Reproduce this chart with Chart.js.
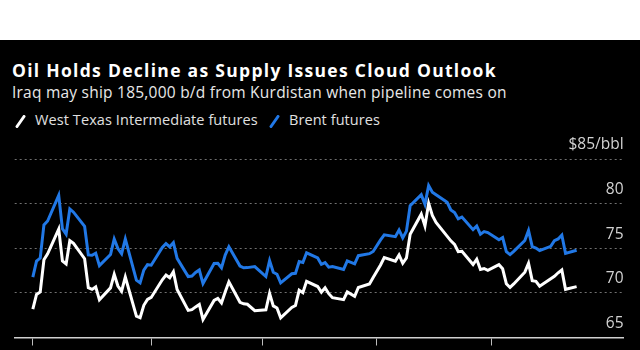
<!DOCTYPE html>
<html>
<head>
<meta charset="utf-8">
<script src="https://cdn.jsdelivr.net/npm/chart.js@4.4.1/dist/chart.umd.min.js"></script>
<style>
  html, body { margin: 0; padding: 0; background: #fff; }
  body { width: 640px; height: 350px; position: relative; overflow: hidden; font-family: "Open Sans", sans-serif; }
  #panel { position: absolute; left: 0; top: 40px; width: 640px; height: 310px; background: #000; }
  .txt { position: absolute; white-space: nowrap; line-height: normal; }
  #title { left: 12px; top: 18px; font-size: 17.5px; font-weight: 700; color: #fff; }
  #subtitle { left: 12px; top: 41px; font-size: 15.5px; color: #e8e8e8; }
  .leg { top: 70px; font-size: 14.5px; color: #e0e0e0; }
  .key { position: absolute; top: 75px; }
  #chartBox { position: absolute; left: 0; top: 130px; width: 640px; height: 220px; }
</style>
</head>
<body>
<div id="panel">
  <div id="title" class="txt" data-w="485">Oil Holds Decline as Supply Issues Cloud Outlook</div>
  <div id="subtitle" class="txt" data-w="495">Iraq may ship 185,000 b/d from Kurdistan when pipeline comes on</div>
  <svg class="key" style="left:14px" width="13" height="13"><line x1="3" y1="11.5" x2="10" y2="1.5" stroke="#fff" stroke-width="3" stroke-linecap="round"/></svg>
  <div class="txt leg" style="left:35px" data-w="223">West Texas Intermediate futures</div>
  <svg class="key" style="left:268px" width="13" height="13"><line x1="3" y1="11.5" x2="10" y2="1.5" stroke="#2178e6" stroke-width="3" stroke-linecap="round"/></svg>
  <div class="txt leg" style="left:289px" data-w="91">Brent futures</div>
</div>
<div id="chartBox"><canvas id="oilChart" width="640" height="220"></canvas></div>

<script>
// daily settlements, Sep 30 2024 - Feb 24 2025
const dates = [
  '2024-09-30','2024-10-01','2024-10-02','2024-10-03','2024-10-04','2024-10-07','2024-10-08','2024-10-09','2024-10-10','2024-10-11',
  '2024-10-14','2024-10-15','2024-10-16','2024-10-17','2024-10-18','2024-10-21','2024-10-22','2024-10-23','2024-10-24','2024-10-25',
  '2024-10-28','2024-10-29','2024-10-30','2024-10-31','2024-11-01','2024-11-04','2024-11-05','2024-11-06','2024-11-07','2024-11-08',
  '2024-11-11','2024-11-12','2024-11-13','2024-11-14','2024-11-15','2024-11-18','2024-11-19','2024-11-20','2024-11-21','2024-11-22',
  '2024-11-25','2024-11-26','2024-11-27','2024-11-29','2024-12-02','2024-12-03','2024-12-04','2024-12-05','2024-12-06','2024-12-09',
  '2024-12-10','2024-12-11','2024-12-12','2024-12-13','2024-12-16','2024-12-17','2024-12-18','2024-12-19','2024-12-20','2024-12-23',
  '2024-12-24','2024-12-26','2024-12-27','2024-12-30','2024-12-31','2025-01-02','2025-01-03','2025-01-06','2025-01-07','2025-01-08',
  '2025-01-09','2025-01-10','2025-01-13','2025-01-14','2025-01-15','2025-01-16','2025-01-17','2025-01-20','2025-01-21','2025-01-22',
  '2025-01-23','2025-01-24','2025-01-27','2025-01-28','2025-01-29','2025-01-30','2025-01-31','2025-02-03','2025-02-04','2025-02-05',
  '2025-02-06','2025-02-07','2025-02-10','2025-02-11','2025-02-12','2025-02-13','2025-02-14','2025-02-17','2025-02-18','2025-02-19',
  '2025-02-20','2025-02-21','2025-02-24'
];

const wti = [
  68.17, 69.83, 70.10, 73.71, 74.38, 77.14, 73.57, 73.24, 75.85, 75.56,
  73.83, 70.58, 70.39, 70.67, 69.22, 70.56, 72.09, 70.77, 70.19, 71.78,
  67.38, 67.21, 68.61, 69.26, 69.49, 71.47, 71.99, 71.69, 72.36, 70.38,
  68.04, 68.12, 68.43, 68.70, 67.02, 69.16, 69.39, 68.87, 70.10, 71.24,
  68.94, 68.77, 68.72, 68.00, 68.10, 69.94, 68.54, 68.30, 67.20, 68.37,
  68.59, 70.29, 70.02, 71.29, 70.71, 70.08, 70.58, 69.91, 69.46, 69.24,
  70.10, 69.62, 70.60, 70.99, 71.72, 73.13, 73.96, 73.56, 74.25, 73.32,
  73.92, 76.57, 78.82, 77.50, 80.04, 78.68, 77.88, null, 75.83, 75.44,
  74.62, 74.66, 73.17, 73.77, 72.62, 72.73, 72.53, 73.16, 72.70, 71.03,
  70.61, 71.00, 72.32, 73.32, 71.37, 71.29, 70.74, null, 71.85, 72.25,
  72.57, 70.40, 70.70
];

const brent = [
  71.77, 73.56, 73.90, 77.62, 78.05, 80.93, 77.18, 76.58, 79.40, 79.04,
  77.46, 74.25, 74.22, 74.45, 73.06, 74.29, 76.04, 74.96, 74.38, 76.05,
  71.42, 71.12, 72.55, 73.16, 73.10, 75.08, 75.53, 75.16, 75.63, 73.87,
  71.83, 71.89, 72.28, 72.56, 71.04, 73.30, 73.31, 72.81, 74.23, 75.17,
  73.01, 72.81, 72.83, 72.94, 71.83, 73.62, 72.31, 72.09, 71.12, 72.14,
  72.19, 73.52, 73.41, 74.49, 73.91, 73.19, 73.39, 72.88, 72.94, 72.63,
  73.58, 73.26, 74.17, 74.39, 74.64, 75.93, 76.51, 76.30, 77.05, 76.16,
  76.92, 79.76, 81.01, 79.92, 82.03, 81.29, 81.00, 80.15, 79.29, 79.00,
  78.29, 78.50, 77.08, 77.49, 76.58, 76.87, 76.76, 75.96, 76.20, 74.61,
  74.29, 74.66, 75.87, 77.00, 75.18, 75.02, 74.74, 75.22, 75.84, 76.04,
  76.48, 74.43, 74.78
];

// month marks on the x axis
const monthTicks = ['2024-09-30', '2024-11-01', '2024-12-01', '2025-01-01', '2025-02-01'];
const yTicks = [65, 70, 75, 80, 85];
const yTop = '$85/bbl';

// stretch header text to the widths used in the original
document.querySelectorAll('[data-w]').forEach(el => {
    const target = +el.dataset.w;
    const n = el.textContent.length;
    const w = el.getBoundingClientRect().width;
    el.style.letterSpacing = ((target - w) / n).toFixed(2) + 'px';
});

const DAY = 86400000;
const start = Date.parse(dates[0]);
const dayOf = d => (Date.parse(d) - start) / DAY;

const toPoints = vals => dates.map((d, i) => ({ x: dayOf(d), y: vals[i] }));

new Chart(document.getElementById('oilChart'), {
    type: 'line',
    data: {
        datasets: [
            {
                label: 'Brent futures',
                data: toPoints(brent),
                borderColor: '#2178e6',
                borderWidth: 3,
                pointRadius: 0,
                tension: 0,
                spanGaps: true
            },
            {
                label: 'West Texas Intermediate futures',
                data: toPoints(wti),
                borderColor: '#ffffff',
                borderWidth: 3,
                pointRadius: 0,
                tension: 0,
                spanGaps: true
            }
        ]
    },
    options: {
        responsive: false,
        animation: false,
        events: [],
        layout: { padding: { left: 14.7, right: 16.4, top: 29, bottom: 4.5 } },
        plugins: {
            legend: { display: false },
            tooltip: { enabled: false }
        },
        scales: {
            x: {
                type: 'linear',
                min: -4.9,
                max: 159.7,
                afterBuildTicks: scale => {
                    scale.ticks = monthTicks.map(d => ({ value: dayOf(d) }));
                },
                afterFit: scale => {
                    scale.paddingLeft = 0;
                    scale.paddingRight = 0;
                },
                ticks: { display: false },
                grid: {
                    drawOnChartArea: false,
                    drawTicks: true,
                    tickLength: 8,
                    tickColor: '#bdbdbd',
                    tickWidth: 1
                },
                border: { display: true, color: '#d0d0d0', width: 1.5 }
            },
            y: {
                position: 'right',
                min: 65,
                max: 85,
                afterBuildTicks: scale => {
                    scale.ticks = yTicks.map(v => ({ value: v }));
                },
                afterFit: scale => {
                    scale.width = 0;
                    scale.paddingTop = 0;
                    scale.paddingBottom = 0;
                },
                ticks: {
                    mirror: true,
                    padding: 0,
                    labelOffset: -14,
                    color: '#d2d2d2',
                    font: { family: 'Open Sans', size: 15.5 },
                    callback: v => (v === 85 ? yTop : String(v))
                },
                grid: {
                    drawTicks: false,
                    tickLength: 0,
                    lineWidth: 1,
                    color: ctx => (ctx.tick && ctx.tick.value === 65 ? 'rgba(0,0,0,0)' : '#707070')
                },
                border: { display: false, dash: [2, 3] }
            }
        }
    }
});
</script>
</body>
</html>
